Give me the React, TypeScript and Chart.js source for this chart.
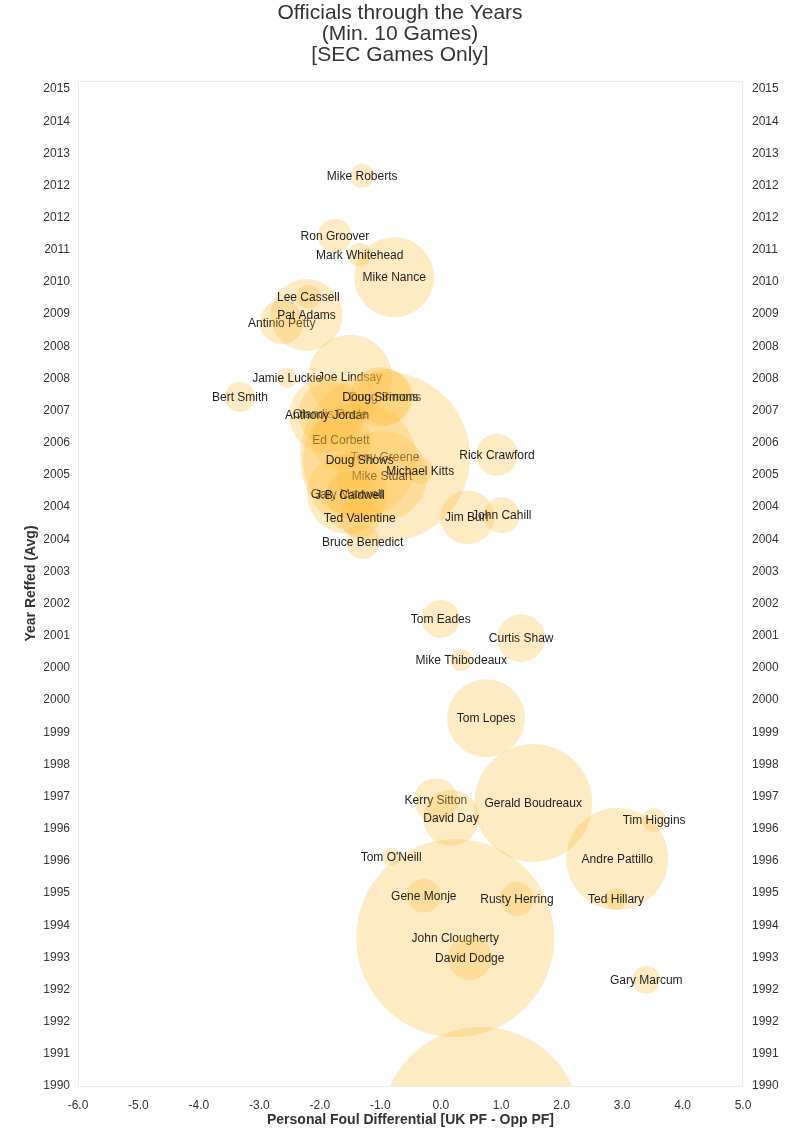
import React, { useEffect, useRef } from "react";
import { Chart, registerables } from "chart.js";

Chart.register(...registerables);

// Draw order: earlier entries are painted first (underneath later ones).
const officials = [
  "",
  "Mike Nance", "Ron Groover", "Mark Whitehead", "Mike Roberts",
  "Antinio Petty", "Pat Adams", "Lee Cassell",
  "Joe Lindsay", "Jamie Luckie", "Bert Smith", "Doug Simons", "Olandis Poole",
  "Tony Greene", "Ed Corbett", "Mike Stuart", "Gary Maxwell", "Doug Shows",
  "Anthony Jordan", "Doug Sirmons", "J.B. Caldwell", "Ted Valentine", "Michael Kitts",
  "Bruce Benedict", "Rick Crawford", "Jim Burr", "John Cahill",
  "Tom Eades", "Curtis Shaw", "Mike Thibodeaux", "Tom Lopes",
  "Gerald Boudreaux", "Kerry Sitton", "David Day", "Andre Pattillo", "Tim Higgins", "Ted Hillary",
  "John Clougherty", "Tom O'Neill", "Gene Monje", "Rusty Herring", "David Dodge", "Gary Marcum",
];

const foulDiff = [
  0.67,
  -0.77, -1.75, -1.34, -1.30,
  -2.63, -2.22, -2.19,
  -1.50, -2.54, -3.32, -0.92, -1.83,
  -0.92, -1.65, -0.97, -1.55, -1.34,
  -1.88, -1.00, -1.50, -1.34, -0.34,
  -1.29, 0.93, 0.44, 1.01,
  0.00, 1.33, 0.34, 0.75,
  1.53, -0.08, 0.17, 2.92, 3.53, 2.90,
  0.24, -0.82, -0.28, 1.26, 0.48, 3.40,
];

const yearAvg = [
  1988.98,
  2010.12, 2011.15, 2010.68, 2012.64,
  2009.00, 2009.18, 2009.63,
  2007.64, 2007.61, 2007.14, 2007.14, 2006.72,
  2005.65, 2006.07, 2005.17, 2004.73, 2005.57,
  2006.69, 2007.14, 2004.70, 2004.13, 2005.30,
  2003.53, 2005.70, 2004.15, 2004.20,
  2001.62, 2001.14, 2000.60, 1999.15,
  1997.04, 1997.11, 1996.67, 1995.65, 1996.62, 1994.65,
  1993.68, 1995.70, 1994.73, 1994.65, 1993.18, 1992.64,
];

const bubbleRadius = [
  100,
  40, 17, 12, 12,
  22, 36, 12,
  42, 10, 15, 28, 32,
  85, 30, 45, 40, 57,
  38, 30, 24, 20, 13,
  17, 21, 27, 18,
  19, 24, 11, 39,
  59, 22, 28, 51, 12, 11,
  99, 9, 17, 17, 22, 14,
];

const titleLines = ["Officials through the Years", "(Min. 10 Games)", "[SEC Games Only]"];
const xAxisTitle = "Personal Foul Differential [UK PF - Opp PF]";
const yAxisTitle = "Year Reffed (Avg)";
const xMin = -6;
const xMax = 5;
const yearMin = 1990;
const yearMax = 2015;
const yearStep = 0.8;

const SANS = "'Liberation Sans', Arial, Helvetica, sans-serif";

function buildYearTicks(scale: any) {
  const n = Math.floor((yearMax - yearMin) / yearStep + 1e-9) + 1;
  const t: { value: number }[] = [];
  for (let k = 0; k < n; k++) t.push({ value: yearMin + k * yearStep });
  scale.ticks = t;
}

export default function App() {
  const ref = useRef<HTMLCanvasElement | null>(null);

  useEffect(() => {
    document.body.style.margin = "0";
    if (!ref.current) return;

    const labelPlugin = {
      id: "bubbleLabels",
      afterDatasetDraw(chart: any, args: any) {
        const { ctx, chartArea } = chart;
        const el = args.meta.data[0];
        const name = chart.data.datasets[args.index].label;
        if (!el || !name) return;
        ctx.save();
        ctx.beginPath();
        ctx.rect(chartArea.left, chartArea.top, chartArea.right - chartArea.left, chartArea.bottom - chartArea.top);
        ctx.clip();
        ctx.font = `12px ${SANS}`;
        ctx.fillStyle = "#1e1e1e";
        ctx.textAlign = "center";
        ctx.textBaseline = "middle";
        ctx.fillText(name, el.x, el.y + 1);
        ctx.restore();
      },
    };

    const framePlugin = {
      id: "frame",
      beforeDatasetsDraw(chart: any) {
        const { ctx, chartArea } = chart;
        ctx.save();
        ctx.strokeStyle = "#ececec";
        ctx.lineWidth = 1;
        ctx.strokeRect(
          Math.round(chartArea.left) + 0.5,
          Math.round(chartArea.top) + 0.5,
          Math.round(chartArea.right - chartArea.left) - 1,
          Math.round(chartArea.bottom - chartArea.top)
        );
        ctx.restore();
      },
    };

    const datasets = officials.map((name, i) => ({
      label: name,
      data: [{ x: foulDiff[i], y: yearAvg[i], r: bubbleRadius[i] }],
      backgroundColor: "rgba(253, 190, 60, 0.3)",
      borderWidth: 0,
      hoverBorderWidth: 0,
      order: -i,
      clip: 0,
      xAxisID: "x",
      yAxisID: "y",
    }));

    const yTicks = {
      autoSkip: false,
      color: "#333",
      font: { size: 12, family: SANS },
      padding: 8,
      callback: (v: any) => String(Math.round(Number(v))),
    };

    const chart = new Chart(ref.current, {
      type: "bubble",
      data: { datasets },
      options: {
        animation: false,
        responsive: true,
        maintainAspectRatio: false,
        events: [],
        layout: { padding: 0, autoPadding: false },
        plugins: {
          legend: { display: false },
          tooltip: { enabled: false },
          title: {
            display: true,
            text: titleLines,
            color: "#333",
            font: { size: 21, family: SANS, weight: "normal", lineHeight: 1.0 },
            padding: { top: 3, bottom: 15 },
          },
        },
        scales: {
          x: {
            type: "linear",
            position: "bottom",
            min: xMin,
            max: xMax,
            grid: { display: false, drawTicks: false },
            border: { display: false },
            ticks: {
              stepSize: 1,
              color: "#333",
              font: { size: 12, family: SANS },
              padding: 12,
              maxRotation: 0,
              callback: (v: any) => Number(v).toFixed(1),
            },
            title: {
              display: true,
              text: xAxisTitle,
              color: "#333",
              font: { size: 14, family: SANS, weight: "bold" },
              padding: { top: 0, bottom: 7 },
            },
            afterFit: (s: any) => {
              s.height = 50;
            },
          },
          y: {
            type: "linear",
            position: "left",
            min: yearMin,
            max: yearMax,
            grid: { display: false, drawTicks: false },
            border: { display: false },
            afterBuildTicks: buildYearTicks,
            ticks: yTicks,
            title: {
              display: true,
              text: yAxisTitle,
              color: "#333",
              font: { size: 14, family: SANS, weight: "bold" },
              padding: { top: 23, bottom: 0 },
            },
            afterFit: (s: any) => {
              s.width = 78;
            },
          },
          y2: {
            type: "linear",
            position: "right",
            display: true,
            min: yearMin,
            max: yearMax,
            grid: { display: false, drawTicks: false },
            border: { display: false },
            afterBuildTicks: buildYearTicks,
            ticks: { ...yTicks, padding: 9 },
            afterFit: (s: any) => {
              s.width = 57;
            },
          },
        },
      } as any,
      plugins: [labelPlugin, framePlugin],
    });

    return () => chart.destroy();
  }, []);

  return (
    <div style={{ width: 800, height: 1136, position: "relative" }}>
      <canvas ref={ref} />
    </div>
  );
}
